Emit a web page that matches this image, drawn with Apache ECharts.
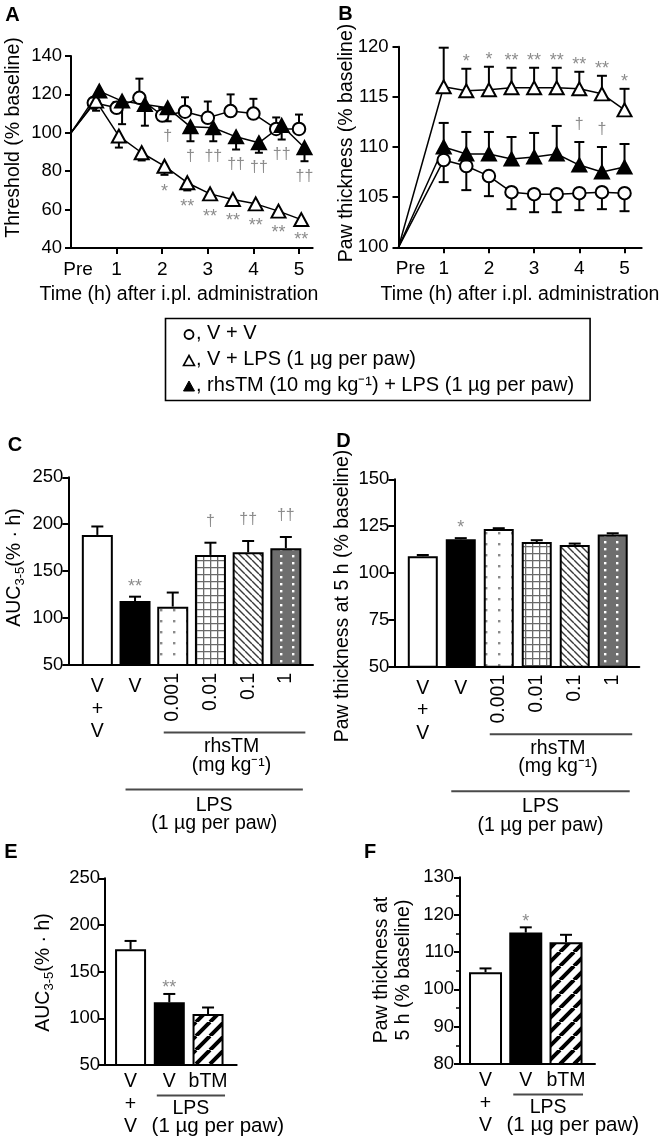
<!DOCTYPE html>
<html><head><meta charset="utf-8"><title>Figure</title>
<script src="https://cdn.jsdelivr.net/npm/echarts@6.0.0/dist/echarts.min.js"></script>
<style>html,body{margin:0;padding:0;background:#fff;}#c{width:670px;height:1146px;}</style>
</head><body><div id="c"></div>
<script>
const FONT = "'Liberation Sans', Arial, Helvetica, sans-serif";

// ---------- Panel A: threshold (% baseline) ----------
const A_time = [0, 0.5, 1, 1.5, 2, 2.5, 3, 3.5, 4, 4.5, 5];
const A_xTicks = [0, 1, 2, 3, 4, 5];
const A_xLabels = ['Pre', '1', '2', '3', '4', '5'];
const A_VV = [100, 115.6, 113.0, 118.2, 109.0, 111.0, 107.8, 111.3, 110.0, 102.0, 102.0];
const A_VV_err = [0, 2, 3, 10, 4, 7.5, 8.5, 8.7, 7.7, 6, 7.5];
const A_LPS = [100, 116.5, 98.3, 89.6, 82.6, 74.0, 68.2, 65.3, 63.0, 59.2, 54.8];
const A_LPS_err = [0, 5, 6, 4, 4.5, 4, 3, 2.5, 2.5, 2.5, 2];
const A_TM = [100, 121.7, 116.5, 114.7, 113.0, 103.1, 102.6, 97.9, 94.8, 103.8, 92.2];
const A_TM_err = [0, 3, 12, 11, 7, 7.5, 7, 6.6, 5.2, 7.3, 7];
const A_LPS_sig = ['', '', '', '', '*', '**', '**', '**', '**', '**', '**'];
const A_TM_sig = ['', '', '', '', '†', '†', '††', '††', '††', '††', '††'];

// ---------- Panel B: paw thickness (% baseline) ----------
const B_time = [0, 1, 1.5, 2, 2.5, 3, 3.5, 4, 4.5, 5];
const B_xTicks = [0, 1, 2, 3, 4, 5];
const B_xLabels = ['Pre', '1', '2', '3', '4', '5'];
const B_VV = [100, 108.7, 108.1, 107.1, 105.5, 105.3, 105.3, 105.4, 105.5, 105.4];
const B_VV_err = [0, 2.2, 2.4, 2.0, 1.7, 1.8, 1.8, 1.7, 1.7, 1.8];
const B_LPS = [100, 116.0, 115.6, 115.7, 115.9, 115.9, 115.9, 115.8, 115.3, 113.7];
const B_LPS_err = [0, 3.9, 2.2, 2.3, 2.0, 2.0, 2.0, 1.7, 1.8, 2.1];
const B_TM = [100, 110.0, 109.3, 109.3, 108.8, 109.0, 109.3, 108.2, 107.5, 108.0];
const B_TM_err = [0, 2.4, 2.2, 2.2, 2.2, 2.4, 2.8, 2.3, 2.5, 2.3];
const B_LPS_sig = ['', '', '*', '*', '**', '**', '**', '**', '**', '*'];
const B_TM_sig = ['', '', '', '', '', '', '', '†', '†', ''];

// ---------- Panel C: AUC 3-5 ----------
const C_groups = ['V + V', 'V', '0.001', '0.01', '0.1', '1'];
const C_vals = [188.6, 118.2, 112.2, 167.3, 170.1, 174.4];
const C_err = [9, 4.6, 15, 13, 12, 12];
const C_sig = ['', '**', '', '†', '††', '††'];

// ---------- Panel D: paw thickness at 5 h ----------
const D_groups = ['V + V', 'V', '0.001', '0.01', '0.1', '1'];
const D_vals = [109, 118, 123.5, 116.5, 115, 120.5];
const D_err = [0.6, 0.6, 0.4, 1.0, 0.7, 0.7];
const D_sig = ['', '*', '', '', '', ''];

// ---------- Panel E: AUC 3-5 (bTM) ----------
const E_groups = ['V + V', 'V', 'bTM'];
const E_vals = [173.9, 117.1, 104.6];
const E_err = [9, 9, 7];
const E_sig = ['', '**', ''];

// ---------- Panel F: paw thickness at 5 h (bTM) ----------
const F_groups = ['V + V', 'V', 'bTM'];
const F_vals = [104.6, 115.2, 112.6];
const F_err = [1.0, 1.4, 2.0];
const F_sig = ['', '*', ''];

// legend texts
const LEG = ['V + V', 'V + LPS (1 µg per paw)', 'rhsTM (10 mg kg⁻¹) + LPS (1 µg per paw)'];

// ---------- patterns ----------
function pat(w, h, draw) {
  const c = document.createElement('canvas'); c.width = w; c.height = h;
  const g = c.getContext('2d'); draw(g, w, h);
  return { image: c, repeat: 'repeat' };
}
const patDots = pat(13, 11, (g, w, h) => { g.fillStyle = '#fff'; g.fillRect(0, 0, w, h); g.fillStyle = '#8a8a8a'; g.fillRect(4, 4, 2.4, 2.4); });
const patGrid = pat(7, 7, (g, w, h) => { g.fillStyle = '#fff'; g.fillRect(0, 0, w, h); g.strokeStyle = '#6a6a6a'; g.lineWidth = 1.3; g.beginPath(); g.moveTo(0.65, 0); g.lineTo(0.65, h); g.moveTo(0, 0.65); g.lineTo(w, 0.65); g.stroke(); });
const patDiag = pat(7, 7, (g, w, h) => { g.fillStyle = '#fff'; g.fillRect(0, 0, w, h); g.strokeStyle = '#3a3a3a'; g.lineWidth = 1.4; g.beginPath(); for (const k of [-7, 0, 7]) { g.moveTo(k, 0); g.lineTo(k + 7, 7); } g.stroke(); });
const patDarkDots = pat(12, 7, (g, w, h) => { g.fillStyle = '#6e6e6e'; g.fillRect(0, 0, w, h); g.fillStyle = '#fff'; g.fillRect(4, 2, 2.4, 2.4); });
const patThick = pat(14, 14, (g, w, h) => { g.fillStyle = '#fff'; g.fillRect(0, 0, w, h); g.strokeStyle = '#000'; g.lineWidth = 4; g.beginPath(); for (const k of [-14, 0, 14]) { g.moveTo(k, 14); g.lineTo(k + 14, 0); } g.stroke(); });
const CD_fill = ['#fff', '#000', patDots, patGrid, patDiag, patDarkDots];
const EF_fill = ['#fff', '#000', patThick];

// ---------- helpers ----------
const AX_LINE = { show: true, onZero: false, lineStyle: { color: '#000', width: 2 } };
const TICK_STYLE = { color: '#000', width: 2 };
function yAx(gi, min, max, interval, margin, extra) {
  return Object.assign({
    type: 'value', gridIndex: gi, min, max, interval,
    axisLine: AX_LINE,
    axisTick: { show: true, length: 6, lineStyle: TICK_STYLE },
    axisLabel: { color: '#000', fontSize: 18.5, fontFamily: FONT, margin },
    splitLine: { show: false }
  }, extra || {});
}
function xTimeAx(gi, max, ticks, labels, prePad) {
  return {
    type: 'value', gridIndex: gi, min: 0, max, interval: 1,
    axisLine: AX_LINE,
    axisTick: { show: true, length: 6, lineStyle: TICK_STYLE, customValues: ticks.slice(1) },
    axisLabel: {
      customValues: ticks, color: '#000', fontSize: 19, fontFamily: FONT, margin: 12,
      formatter: v => { const i = ticks.indexOf(v); if (i < 0) return ''; return i === 0 ? '{p|' + labels[0] + '}' : labels[i]; },
      rich: { p: { padding: [0, 0, 0, prePad], fontSize: 19, fontFamily: FONT, color: '#000' } }
    },
    splitLine: { show: false }
  };
}
function xBarAx(gi, min, max) {
  return { type: 'value', gridIndex: gi, min, max, axisLine: AX_LINE, axisTick: { show: false }, axisLabel: { show: false }, splitLine: { show: false } };
}
function lineSeries(gi, xs, ys, symbol, fill, size) {
  return {
    type: 'line', xAxisIndex: gi, yAxisIndex: gi, z: 3, silent: true, showAllSymbol: true,
    data: xs.map((x, i) => i === 0 ? { value: [x, ys[i]], symbol: 'none' } : [x, ys[i]]),
    symbol, symbolSize: size,
    lineStyle: { color: '#000', width: 1.5 },
    itemStyle: { color: fill, borderColor: '#000', borderWidth: 2 }
  };
}
function errSeries(gi, xs, ys, es, dir, capHalf) {
  return {
    type: 'custom', xAxisIndex: gi, yAxisIndex: gi, z: 2, silent: true,
    data: xs.map((x, i) => [x, ys[i], es[i]]),
    renderItem(params, api) {
      const x = api.value(0), y = api.value(1), e = api.value(2);
      if (!e) return null;
      const p0 = api.coord([x, y]), p1 = api.coord([x, y + dir * e]);
      const st = { stroke: '#000', lineWidth: 2 };
      return { type: 'group', children: [
        { type: 'line', shape: { x1: p0[0], y1: p0[1], x2: p1[0], y2: p1[1] }, style: st },
        { type: 'line', shape: { x1: p1[0] - capHalf, y1: p1[1], x2: p1[0] + capHalf, y2: p1[1] }, style: st }
      ] };
    }
  };
}
function sigSeries(gi, xs, tips, texts, dyStar, dyDag) {
  return {
    type: 'custom', xAxisIndex: gi, yAxisIndex: gi, z: 6, silent: true,
    data: xs.map((x, i) => [x, tips[i]]),
    renderItem(params, api) {
      const t = texts[params.dataIndex]; if (!t) return null;
      const p = api.coord([api.value(0), api.value(1)]);
      const star = t.indexOf('*') >= 0;
      return { type: 'text', x: p[0], y: p[1] + (star ? dyStar : dyDag),
        style: { text: t, fill: '#8c8c8c', font: (star ? 18 : 16) + 'px ' + FONT, align: 'center', verticalAlign: 'middle' } };
    }
  };
}
function barSeries(gi, vals, fills, width) {
  return {
    type: 'bar', xAxisIndex: gi, yAxisIndex: gi, z: 2, silent: true, barWidth: width,
    data: vals.map((v, i) => ({ value: [i, v], itemStyle: { color: fills[i] } })),
    itemStyle: { borderColor: '#000', borderWidth: 2 }
  };
}
const idx = a => a.map((_, i) => i);
const dodge = (xs, d) => xs.map(x => x === 0 ? 0 : x + d);

// dodged x positions in A (marker nudge as in the original)
const A_xVV = dodge(A_time, 0), A_xLPS = dodge(A_time, 0.05), A_xTM = dodge(A_time, 0.12);

const option = {
  animation: false,
  backgroundColor: '#fff',
  grid: [
    { left: 71, top: 56, width: 241.7, height: 192 },
    { left: 398.5, top: 46.7, width: 243.2, height: 200.6 },
    { left: 68.3, top: 477.3, width: 244.7, height: 187.7 },
    { left: 394.3, top: 479.3, width: 245, height: 187.4 },
    { left: 105, top: 878.3, width: 131.7, height: 186.7 },
    { left: 460, top: 877.3, width: 135, height: 186.7 }
  ],
  xAxis: [
    xTimeAx(0, 5.3, A_xTicks, A_xLabels, 14),
    xTimeAx(1, 5.38, B_xTicks, B_xLabels, 24),
    xBarAx(2, -0.77, 5.72),
    xBarAx(3, -0.75, 5.7),
    xBarAx(4, -0.66, 2.74),
    xBarAx(5, -0.634, 2.72)
  ],
  yAxis: [
    yAx(0, 40, 140, 20, 9),
    yAx(1, 100, 120, 5, 10),
    yAx(2, 50, 250, 50, 5),
    yAx(3, 50, 150, 25, 5),
    yAx(4, 50, 250, 50, 5),
    yAx(5, 80, 130, 10, 6, { minorTick: { show: true, splitNumber: 2, length: 4, lineStyle: { color: '#000', width: 1.5 } } })
  ],
  series: [
    // A
    errSeries(0, A_xVV, A_VV, A_VV_err, 1, 4),
    errSeries(0, A_xLPS, A_LPS, A_LPS_err, -1, 4),
    errSeries(0, A_xTM, A_TM, A_TM_err, -1, 4),
    lineSeries(0, A_xVV, A_VV, 'circle', '#fff', 12.5),
    lineSeries(0, A_xLPS, A_LPS, 'triangle', '#fff', [14, 13]),
    lineSeries(0, A_xTM, A_TM, 'triangle', '#000', [14, 13]),
    sigSeries(0, A_xLPS, A_LPS.map((v, i) => v - A_LPS_err[i]), A_LPS_sig, 17, 15),
    sigSeries(0, A_xTM, A_TM.map((v, i) => v - A_TM_err[i]), A_TM_sig, 17, 15),
    // B
    errSeries(1, B_time, B_VV, B_VV_err, -1, 5),
    errSeries(1, B_time, B_LPS, B_LPS_err, 1, 5),
    errSeries(1, B_time, B_TM, B_TM_err, 1, 5),
    lineSeries(1, B_time, B_VV, 'circle', '#fff', 12.5),
    lineSeries(1, B_time, B_LPS, 'triangle', '#fff', [14, 13]),
    lineSeries(1, B_time, B_TM, 'triangle', '#000', [14, 13]),
    sigSeries(1, B_time, B_LPS.map((v, i) => v + B_LPS_err[i]), B_LPS_sig, -7, -17),
    sigSeries(1, B_time, B_TM.map((v, i) => v + B_TM_err[i]), B_TM_sig, -7, -17),
    // C
    barSeries(2, C_vals, CD_fill, 31),
    errSeries(2, idx(C_vals), C_vals, C_err, 1, 6),
    sigSeries(2, idx(C_vals), C_vals.map((v, i) => v + C_err[i]), C_sig, -9.5, -21),
    // D
    barSeries(3, D_vals, CD_fill, 30),
    errSeries(3, idx(D_vals), D_vals, D_err, 1, 6),
    sigSeries(3, idx(D_vals), D_vals.map((v, i) => v + D_err[i]), D_sig, -10, -20),
    // E
    barSeries(4, E_vals, EF_fill, 31),
    errSeries(4, idx(E_vals), E_vals, E_err, 1, 6),
    sigSeries(4, idx(E_vals), E_vals.map((v, i) => v + E_err[i]), E_sig, -6, -16),
    // F
    barSeries(5, F_vals, EF_fill, 33),
    errSeries(5, idx(F_vals), F_vals, F_err, 1, 6),
    sigSeries(5, idx(F_vals), F_vals.map((v, i) => v + F_err[i]), F_sig, -5, -16)
  ]
};

const chart = echarts.init(document.getElementById('c'), null, { renderer: 'canvas', width: 670, height: 1146 });
chart.setOption(option);

// ---------- annotation graphics (positions derived from axes) ----------
const P = (gi, x, y) => chart.convertToPixel({ gridIndex: gi }, [x, y]);
const G = [];
const F19 = '19.5px ' + FONT;
function txt(x, y, text, style, rot) {
  const el = { type: 'text', x, y, silent: true, z: 10,
    style: Object.assign({ text, fill: '#000', font: F19, align: 'center', verticalAlign: 'middle' }, style || {}) };
  if (rot) el.rotation = rot;
  G.push(el);
}
function hline(x1, x2, y) {
  G.push({ type: 'line', silent: true, z: 10, shape: { x1, y1: y, x2, y2: y }, style: { stroke: '#4a4a4a', lineWidth: 2 } });
}
const R90 = Math.PI / 2;
const BOLD = 'bold 20px ' + FONT;

// panel letters
txt(12.5, 15, 'A', { font: BOLD });
txt(345.5, 14.5, 'B', { font: BOLD });
txt(15, 445, 'C', { font: BOLD });
txt(343.5, 441.5, 'D', { font: BOLD });
txt(11, 852, 'E', { font: BOLD });
txt(370, 852.5, 'F', { font: BOLD });

// axis titles
txt(13.5, 137.5, 'Threshold (% baseline)', null, R90);
txt(347, 143, 'Paw thickness (% baseline)', null, R90);
txt(179, 295, 'Time (h) after i.pl. administration');
txt(520, 295, 'Time (h) after i.pl. administration');
const aucRich = { a: { font: F19, fill: '#000', lineHeight: 24 }, s: { font: '13px ' + FONT, fill: '#000', lineHeight: 13, verticalAlign: 'bottom' } };
txt(14.5, 567.5, '{a|AUC}{s|3-5}{a|(% · h)}', { rich: aucRich }, R90);
txt(343, 596, 'Paw thickness at 5 h (% baseline)', null, R90);
txt(43.5, 972.5, '{a|AUC}{s|3-5}{a|(% · h)}', { rich: aucRich }, R90);
txt(392.5, 970, 'Paw thickness at\n5 h (% baseline)', { lineHeight: 21.6 }, R90);

// panels C and D: group labels and brackets
function cdLabels(gi, groups) {
  const cx = groups.map((_, i) => P(gi, i, 50)[0]);
  const ay = P(gi, 0, 50)[1];
  const g0 = groups[0].split(' ');
  txt(cx[0], ay + 10.5, g0.join('\n'), { verticalAlign: 'top', lineHeight: 22.5 });
  txt(cx[1], ay + 10.5, groups[1], { verticalAlign: 'top', lineHeight: 22.5 });
  for (let i = 2; i < groups.length; i++) txt(cx[i], ay + 8, groups[i], { align: 'right' }, R90);
  const r1 = cx[2] - 9, r2 = cx[5] + 19.5;
  hline(r1, r2, ay + 67.5);
  txt((r1 + r2) / 2 - 3, ay + 72.5, 'rhsTM\n(mg kg⁻¹)', { verticalAlign: 'top', lineHeight: 18.5 });
  const l1 = cx[1] - 9.5, l2 = cx[5] + 17;
  hline(l1, l2, ay + 124.5);
  txt((l1 + l2) / 2, ay + 131, 'LPS\n(1 µg per paw)', { verticalAlign: 'top', lineHeight: 18.5 });
}
cdLabels(2, C_groups);
cdLabels(3, D_groups);

// panels E and F
function efLabels(gi, groups) {
  const cx = groups.map((_, i) => P(gi, i, 0)[0]);
  const ay = P(gi, 0, gi === 4 ? 50 : 80)[1];
  const g0 = groups[0].split(' ');
  txt(cx[0], ay + 5.5, g0.join('\n'), { verticalAlign: 'top', lineHeight: 22.5 });
  txt(cx[1], ay + 16.7, groups[1]);
  txt(cx[2], ay + 16.7, groups[2]);
  const l1 = cx[1] - 12.5, l2 = cx[2] + 17;
  hline(l1, l2, ay + 30.5);
  txt((l1 + l2) / 2, ay + 43.3, 'LPS');
  txt(cx[0] + 21, ay + 61.7, '(1 µg per paw)', { align: 'left', font: '20.5px ' + FONT });
}
efLabels(4, E_groups);
efLabels(5, F_groups);

// legend box
const measure = document.createElement('canvas').getContext('2d');
measure.font = '20px ' + FONT;
const legW = Math.max(...LEG.map(t => measure.measureText(', ' + t).width));
const legY = [333.5, 359.5, 385];
G.push({ type: 'rect', silent: true, z: 10, shape: { x: 165.5, y: 318.5, width: 196 + legW + 16 - 165.5, height: 82 }, style: { fill: 'none', stroke: '#000', lineWidth: 1.6 } });
G.push({ type: 'circle', silent: true, z: 10, shape: { cx: 189, cy: legY[0] + 1, r: 4.5 }, style: { fill: '#fff', stroke: '#000', lineWidth: 1.8 } });
const tri = (cx, cy) => [[cx - 5.5, cy + 5], [cx + 5.5, cy + 5], [cx, cy - 5]];
G.push({ type: 'polygon', silent: true, z: 10, shape: { points: tri(189, legY[1] + 1) }, style: { fill: '#fff', stroke: '#000', lineWidth: 1.6 } });
G.push({ type: 'polygon', silent: true, z: 10, shape: { points: tri(189, legY[2] + 1) }, style: { fill: '#000', stroke: '#000', lineWidth: 1 } });
LEG.forEach((t, i) => txt(196, legY[i], ', ' + t, { align: 'left', font: '20px ' + FONT }));

chart.setOption({ graphic: G });
</script></body></html>
